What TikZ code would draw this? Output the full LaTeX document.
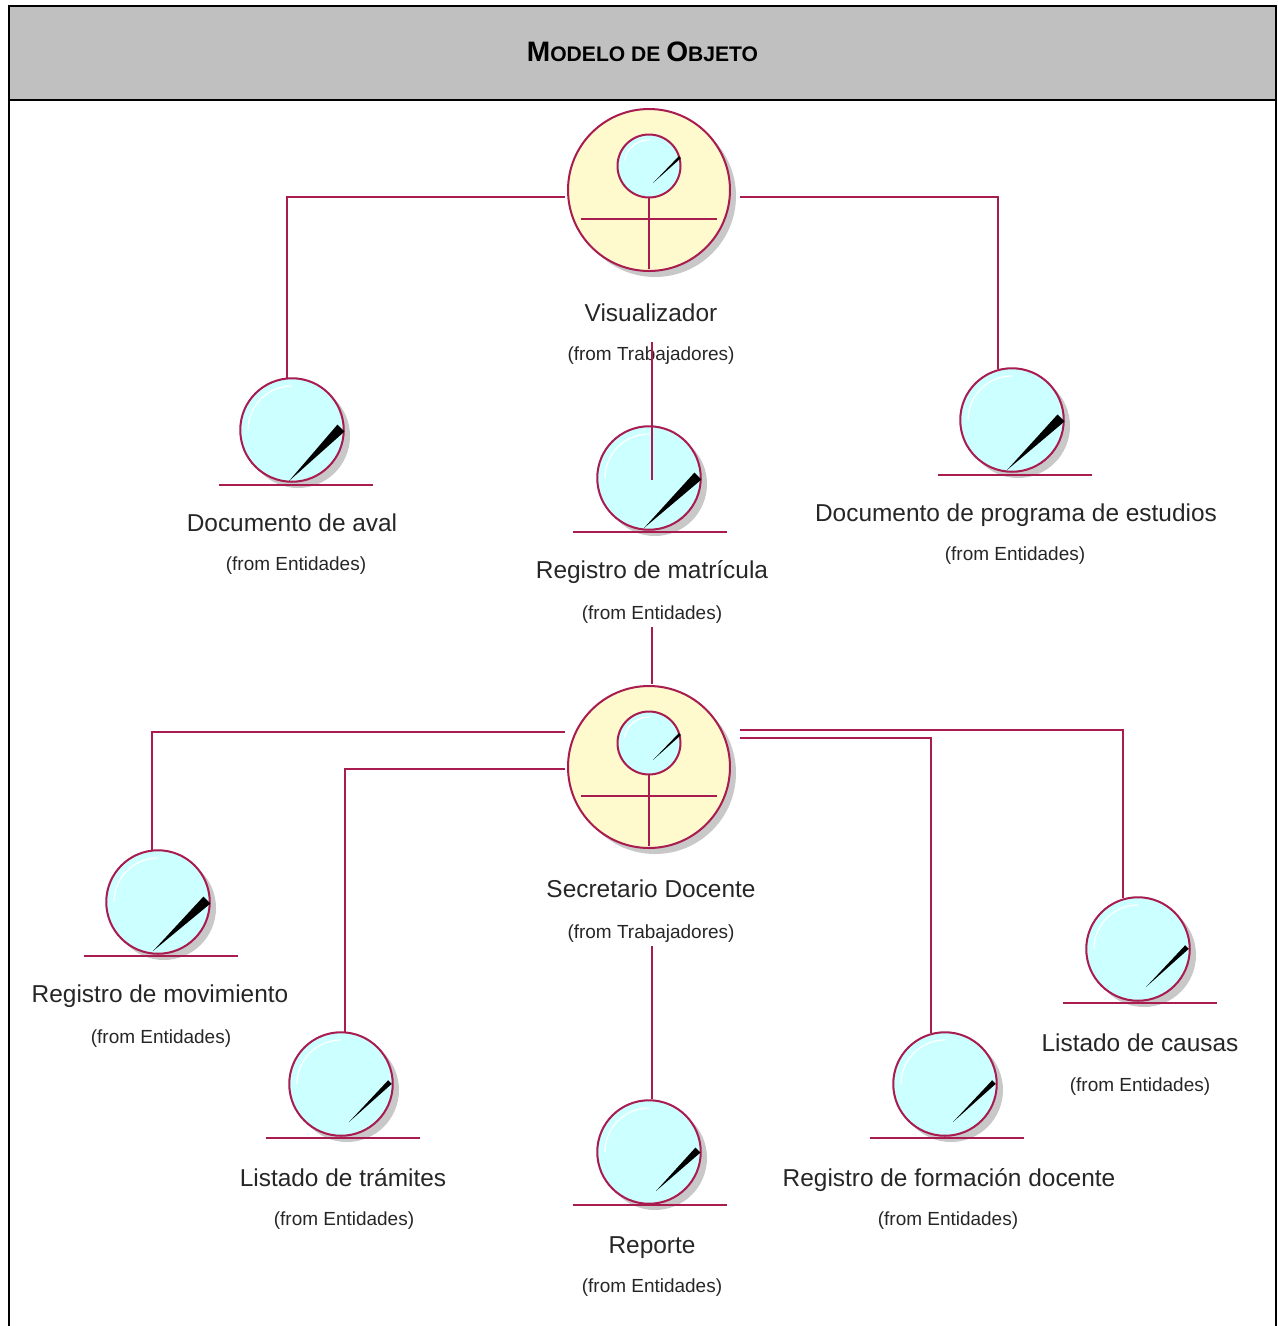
\documentclass[tikz,border=0pt]{standalone}
\usepackage{fontspec}
\setmainfont{Liberation Sans}
\usetikzlibrary{calc}

\definecolor{linea}{HTML}{A81C50}
\definecolor{celeste}{HTML}{CCFFFF}
\definecolor{crema}{HTML}{FFFACD}
\definecolor{sombra}{HTML}{C8C8C8}
\definecolor{cabecera}{HTML}{C0C0C0}

\tikzset{
  asociacion/.style={draw=linea, line width=1.15pt},
  entidad/.style={circle, draw=linea, fill=celeste, line width=1.15pt, minimum size=2.07cm, inner sep=0pt, outer sep=0pt},
  trabajador/.style={circle, draw=linea, fill=crema, line width=1.15pt, minimum size=3.24cm, inner sep=0pt, outer sep=0pt},
  interior/.style={circle, draw=linea, fill=celeste, line width=1.15pt, minimum size=1.26cm, inner sep=0pt, outer sep=0pt},
  nombre/.style={inner sep=0pt, anchor=base, text=black!85, font=\fontsize{13.9}{16}\selectfont},
  origen/.style={inner sep=0pt, anchor=base, text=black!85, font=\fontsize{10.8}{13}\selectfont}
}

\begin{document}
\begin{tikzpicture}[x=0.02cm, y=-0.02cm]

\useasboundingbox (0,0) rectangle (1278,1326);

% Cabecera y marco
\fill [cabecera] (9,6) rectangle (1276,100);
\draw [black, line width=1.6pt] (9,1326) -- (9,6) -- (1276,6) -- (1276,1326);
\draw [black, line width=1.6pt] (9,100) -- (1276,100);
\node (titulo) [inner sep=0pt] at (642.5,52) {\bfseries\fontsize{16}{17}\selectfont M\fontsize{12}{17}\selectfont ODELO DE \fontsize{16}{17}\selectfont O\fontsize{12}{17}\selectfont BJETO};

% Trabajadores
\foreach \id/\cy/\txt/\ly/\fy in {visualizador/190/Visualizador/313/354, secretario/767/Secretario Docente/889/932} {
  \fill [sombra] (655,\cy+6) circle (81);
  \node (\id) [trabajador] at (649,\cy) {};
  \node (\id Cabeza) [interior] at (649,\cy-24) {};
  \draw [asociacion] (\id Cabeza.south) -- (649,\cy+79);
  \draw [asociacion] (581,\cy+29) -- (717,\cy+29);
  \draw [white, line width=0.7pt] (649,\cy-50) arc [start angle=90, end angle=170, radius=0.5cm];
  \fill [black] (653,\cy-7) -- (681,\cy-32) -- (679,\cy-34) -- cycle;
  \node (\id Nombre) [nombre] at (651,\ly+8) {\txt};
  \node (\id Origen) [origen] at (651,\fy+6) {(from Trabajadores)};
}

% Entidades
\foreach \id/\cx/\cy/\sx/\sy/\nw/\ux/\uy/\txt/\lx/\ly/\fx/\fy in {
  aval/292/430/-3/51/3.5/296/485/Documento de aval/292/523/296/564,
  matricula/649/478/-5/50/3.5/650/532/Registro de matrícula/652/570/652/613,
  programa/1012/420/-5/50/3.5/1015/475/Documento de programa de estudios/1016/513/1015/554,
  movimiento/158/902/-5/49/3.5/161/956/Registro de movimiento/160/994/161/1037,
  tramites/341/1084/8/38/1.8/343/1138/Listado de trámites/343/1178/344/1219,
  reporte/649/1152/7/39/2.5/650/1205/Reporte/652/1245/652/1286,
  formacion/945/1084/8/38/1.8/947/1138/Registro de formación docente/949/1178/948/1219,
  causas/1138/949/8/38/1.8/1140/1003/Listado de causas/1140/1043/1140/1085} {
  \fill [sombra] (\cx+6,\cy+6) circle (52);
  \node (\id) [entidad] at (\cx,\cy) {};
  \draw [white, line width=0.7pt] (\cx,\cy-44) arc [start angle=90, end angle=180, radius=0.88cm];
  \fill [black] (\cx+\sx,\cy+\sy) -- (\cx+49+\nw,\cy-2+\nw) -- (\cx+49-\nw,\cy-2-\nw) -- cycle;
  \draw [asociacion] (\ux-77,\uy) -- (\ux+77,\uy);
  \node (\id Nombre) [nombre] at (\lx,\ly+8) {\txt};
  \node (\id Origen) [origen] at (\fx,\fy+6) {(from Entidades)};
}

% Asociaciones
\draw [asociacion] ($(visualizador.center)+(-84,7)$) -| ($(aval.north)+(-5,0)$);
\draw [asociacion] ($(visualizador.center)+(91,7)$) -| ($(programa.north)+(-14,1)$);
\draw [asociacion] ($(visualizador.center)+(3,152)$) -- ($(matricula.center)+(3,2)$);
\draw [asociacion] ($(matricula.center)+(3,149)$) -- ($(secretario.center)+(3,-83)$);
\draw [asociacion] ($(secretario.center)+(-84,-35)$) -| ($(movimiento.north)+(-6,0)$);
\draw [asociacion] ($(secretario.center)+(-84,2)$) -| ($(tramites.north)+(4,1)$);
\draw [asociacion] ($(secretario.center)+(91,-29)$) -| ($(formacion.north)+(-14,1)$);
\draw [asociacion] ($(secretario.center)+(91,-37)$) -| ($(causas.north)+(-15,1)$);
\draw [asociacion] ($(secretario.center)+(3,179)$) -- ($(reporte.north)+(3,-1)$);

\end{tikzpicture}
\end{document}
